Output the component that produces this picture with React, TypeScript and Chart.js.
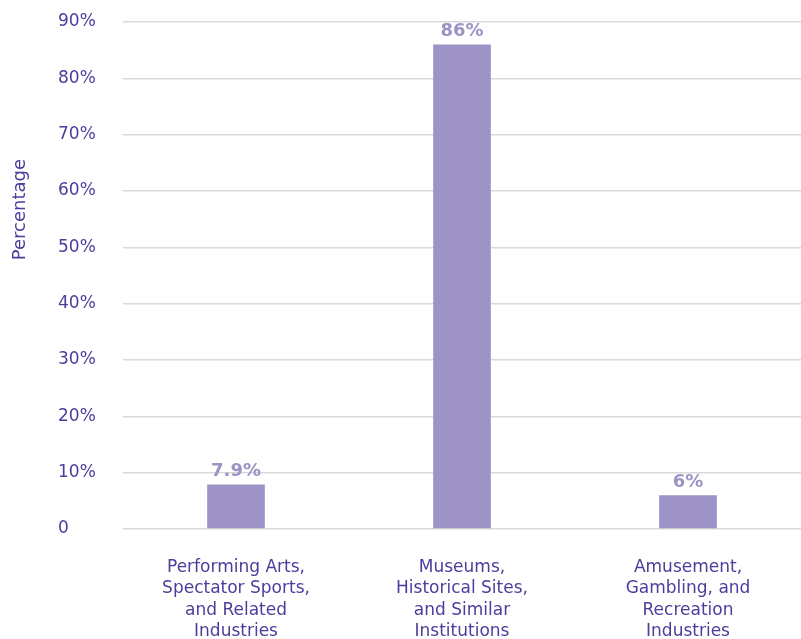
import React, { useEffect, useRef } from "react";
import { Chart, registerables } from "chart.js";

Chart.register(...registerables);

const categories: string[][] = [
  ["Performing Arts,", "Spectator Sports,", "and Related", "Industries"],
  ["Museums,", "Historical Sites,", "and Similar", "Institutions"],
  ["Amusement,", "Gambling, and", "Recreation", "Industries"],
];
const values: number[] = [7.9, 86, 6];
const valueLabels: string[] = ["7.9%", "86%", "6%"];
const yTitle = "Percentage";

const FONT = "'DejaVu Sans', sans-serif";
const TEXT = "#4b3d9c";
const BAR = "#9d93c6";

const labelPlugin = {
  id: "valueLabels",
  afterDatasetsDraw(chart: any) {
    const ctx = chart.ctx;
    const meta = chart.getDatasetMeta(0);
    ctx.save();
    ctx.font = `bold 18px ${FONT}`;
    ctx.fillStyle = BAR;
    ctx.textAlign = "center";
    ctx.textBaseline = "bottom";
    meta.data.forEach((el: any, i: number) => {
      ctx.fillText(valueLabels[i], el.x, el.y - 4);
    });
    ctx.restore();
  },
};

const yTitlePlugin = {
  id: "yTitle",
  afterDraw(chart: any) {
    const { ctx, chartArea } = chart;
    ctx.save();
    ctx.font = `18px ${FONT}`;
    ctx.fillStyle = TEXT;
    ctx.textAlign = "center";
    ctx.textBaseline = "middle";
    ctx.translate(20, chartArea.top + (chartArea.bottom - chartArea.top) * 0.37);
    ctx.rotate(-Math.PI / 2);
    ctx.fillText(yTitle, 0, 0);
    ctx.restore();
  },
};

export default function App() {
  const ref = useRef<HTMLCanvasElement>(null);
  useEffect(() => {
    document.body.style.margin = "0";
    const chart = new Chart(ref.current!, {
      type: "bar",
      data: {
        labels: categories,
        datasets: [
          {
            data: values,
            backgroundColor: BAR,
            categoryPercentage: 1,
            barPercentage: 0.255,
          },
        ],
      },
      options: {
        animation: false,
        responsive: false,
        maintainAspectRatio: false,
        layout: { padding: { top: 22, left: 58, right: 0, bottom: 0 } },
        plugins: { legend: { display: false }, tooltip: { enabled: false } },
        scales: {
          x: {
            grid: { display: false },
            border: { display: false },
            afterFit: (s: any) => {
              s.height = 110;
            },
            ticks: {
              color: TEXT,
              font: { family: FONT, size: 17, lineHeight: 1.25 },
              padding: 20,
              maxRotation: 0,
              autoSkip: false,
            },
          },
          y: {
            min: 0,
            max: 90,
            border: { display: false },
            grid: { color: "#d9d9d9", lineWidth: 1.5, drawTicks: false },
            afterFit: (s: any) => {
              s.width = 65;
            },
            ticks: {
              stepSize: 10,
              color: TEXT,
              font: { family: FONT, size: 17 },
              padding: 0,
              crossAlign: "far",
              callback: (v: any) => (v === 0 ? "0" : v + "%"),
            },
          },
        },
      },
      plugins: [labelPlugin, yTitlePlugin],
    });
    return () => chart.destroy();
  }, []);
  return (
    <div style={{ width: 801, height: 639 }}>
      <canvas ref={ref} width={801} height={639} style={{ display: "block" }} />
    </div>
  );
}
